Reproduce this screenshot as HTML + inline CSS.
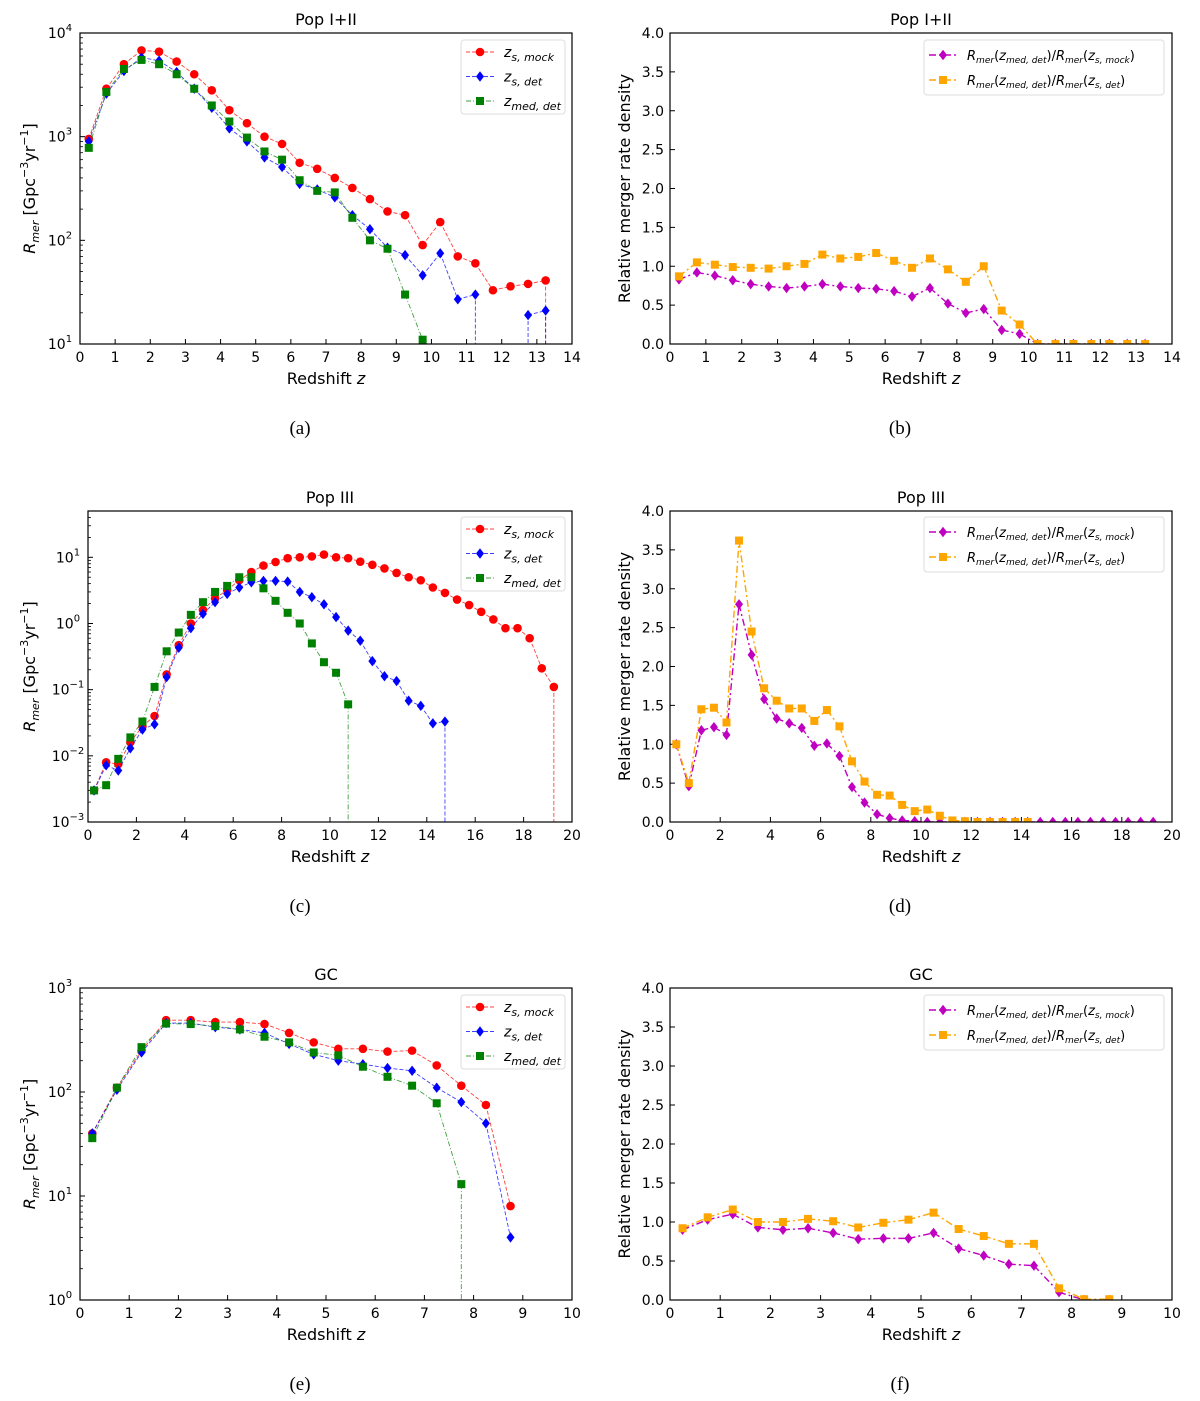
<!DOCTYPE html>
<html><head><meta charset="utf-8">
<style>
body{margin:0;background:#fff;}
svg{display:block;font-family:"DejaVu Sans","Liberation Sans",sans-serif;}
.cap{font-family:"Liberation Serif",serif;font-size:19px;}
</style></head>
<body>
<svg id="fig" width="1200" height="1401" viewBox="0 0 1200 1401" xmlns="http://www.w3.org/2000/svg"></svg>
<script>
// ---- data ----
const zA=[0.25,0.75,1.25,1.75,2.25,2.75,3.25,3.75,4.25,4.75,5.25,5.75,6.25,6.75,7.25,7.75,8.25,8.75,9.25,9.75,10.25,10.75,11.25,11.75,12.25,12.75,13.25,13.75];
const aMock=[950,2900,5000,6800,6600,5300,4000,2800,1800,1350,1000,850,560,490,400,320,250,190,175,90,150,70,60,33,36,38,41,0];
const aDet=[900,2600,4300,5800,5400,4200,2900,1900,1200,900,630,510,350,310,260,175,128,85,72,46,75,27,30,0,0,19,21,0];
const aMed=[780,2700,4500,5500,5000,4000,2900,2000,1400,980,720,600,380,300,290,165,100,83,30,11,0,null,null,null,null,null,null,null];
const bMock=[0.83,0.92,0.88,0.82,0.77,0.74,0.72,0.74,0.77,0.74,0.72,0.71,0.68,0.61,0.72,0.52,0.40,0.45,0.18,0.13,0,0,0,0,0,0,0];
const bDet=[0.87,1.05,1.02,0.99,0.98,0.97,1.00,1.03,1.15,1.10,1.12,1.17,1.07,0.98,1.10,0.96,0.80,1.00,0.43,0.25,0,0,0,0,0,0,0];
const zC=[0.25,0.75,1.25,1.75,2.25,2.75,3.25,3.75,4.25,4.75,5.25,5.75,6.25,6.75,7.25,7.75,8.25,8.75,9.25,9.75,10.25,10.75,11.25,11.75,12.25,12.75,13.25,13.75,14.25,14.75,15.25,15.75,16.25,16.75,17.25,17.75,18.25,18.75,19.25,19.75];
const cMock=[0.003,0.008,0.0075,0.016,0.028,0.04,0.17,0.47,1.0,1.6,2.4,3.2,4.5,6.0,7.5,8.5,9.7,10,10.3,11,10,9.7,8.6,7.7,6.8,5.8,5,4.5,3.5,2.9,2.3,1.9,1.5,1.15,0.85,0.85,0.6,0.21,0.11,0];
const cDet=[0.003,0.0072,0.006,0.013,0.025,0.03,0.155,0.43,0.85,1.4,2.1,2.8,3.5,4.2,4.4,4.4,4.3,3.0,2.5,1.95,1.25,0.78,0.55,0.27,0.16,0.135,0.068,0.057,0.031,0.033,0];
const cMed=[0.003,0.0036,0.009,0.019,0.033,0.11,0.38,0.73,1.35,2.1,3.0,3.7,5.0,5.0,3.4,2.2,1.45,1.0,0.5,0.26,0.18,0.06,0];
const dMock=[1.0,0.46,1.18,1.22,1.12,2.8,2.15,1.58,1.33,1.27,1.21,0.98,1.01,0.85,0.45,0.25,0.1,0.05,0.02,0.01,0,0,0,0,0,0,0,0,0,0,0,0,0,0,0,0,0,0,0];
const dDet=[1.0,0.5,1.45,1.47,1.28,3.62,2.45,1.72,1.56,1.46,1.46,1.3,1.44,1.23,0.78,0.52,0.35,0.34,0.22,0.14,0.16,0.08,0.02,0.01,0,0,0,0,0];
const zE=[0.25,0.75,1.25,1.75,2.25,2.75,3.25,3.75,4.25,4.75,5.25,5.75,6.25,6.75,7.25,7.75,8.25,8.75];
const eMock=[40,110,250,490,490,470,470,450,370,300,260,260,245,250,180,115,75,8];
const eDet=[40,105,240,460,460,420,400,370,290,230,200,185,170,160,110,80,50,4];
const eMed=[36,110,270,455,450,430,400,340,300,240,225,175,140,115,78,13,0];
const fMock=[0.9,1.03,1.1,0.93,0.9,0.92,0.86,0.78,0.79,0.79,0.86,0.66,0.57,0.46,0.44,0.1,0,0];
const fDet=[0.92,1.06,1.16,1.0,1.0,1.04,1.01,0.93,0.99,1.03,1.12,0.91,0.82,0.72,0.72,0.15,0.01,0.01];
const xTicksA=[0,1,2,3,4,5,6,7,8,9,10,11,12,13,14];
const xTicksC=[0,2,4,6,8,10,12,14,16,18,20];
const xTicksE=[0,1,2,3,4,5,6,7,8,9,10];
const linTicks=[0,0.5,1,1.5,2,2.5,3,3.5,4];

const NS="http://www.w3.org/2000/svg";
const svg=document.getElementById('fig');
function mk(tag,attrs,parent){const e=document.createElementNS(NS,tag);for(const k in attrs)e.setAttribute(k,attrs[k]);(parent||svg).appendChild(e);return e;}

function panel(o){
  const g=mk('g',{});
  
  
  const {x0,x1,y0,y1}=o;
  const X=v=>x0+(v-o.xmin)/(o.xmax-o.xmin)*(x1-x0);
  const Y=o.log?(v=>y1-(Math.log10(v)-o.lmin)/(o.lmax-o.lmin)*(y1-y0)):(v=>y1-(v-o.ymin)/(o.ymax-o.ymin)*(y1-y0));
  const t=mk('text',{x:(x0+x1)/2,y:y0-8,'text-anchor':'middle','font-size':16},g);t.textContent=o.title;
  
  o.xticks.forEach(v=>{
    const x=X(v);mk('line',{x1:x,x2:x,y1:y1,y2:y1-5,stroke:'#000','stroke-width':1},g);
    const tt=mk('text',{x:x,y:y1+18,'text-anchor':'middle','font-size':14},g);tt.textContent=v;
    
  });
  const xl=mk('text',{x:(x0+x1)/2,y:y1+40,'text-anchor':'middle','font-size':16},g);
  xl.innerHTML='Redshift <tspan font-style="italic">z</tspan>';
  
  if(o.log){
    for(let d=o.lmin;d<=Math.floor(o.lmax);d++){
      const y=Y(Math.pow(10,d));
      mk('line',{x1:x0,x2:x0+5,y1:y,y2:y,stroke:'#000'},g);
      const tt=mk('text',{x:x0-20,y:y+5,'text-anchor':'middle','font-size':14},g);
      tt.innerHTML='10<tspan dy="-7" font-size="10">'+(d<0?'\u2212'+(-d):d)+'</tspan>';
      
      for(let m=2;m<10;m++){const v=m*Math.pow(10,d);if(Math.log10(v)>o.lmax)break;const ym=Y(v);mk('line',{x1:x0,x2:x0+3,y1:ym,y2:ym,stroke:'#000','stroke-width':0.8},g);}
    }
    const yl=mk('text',{x:0,y:0,'text-anchor':'middle','font-size':16,transform:`translate(${o.ylx},${(y0+y1)/2}) rotate(-90)`},g);
    yl.innerHTML='<tspan font-style="italic">R</tspan><tspan font-style="italic" font-size="11" dy="4">mer</tspan><tspan dy="-4">  [Gpc</tspan><tspan font-size="11" dy="-7">\u22123</tspan><tspan dy="7">yr</tspan><tspan font-size="11" dy="-7">\u22121</tspan><tspan dy="7">]</tspan>';
    
  } else {
    linTicks.forEach(v=>{const y=Y(v);mk('line',{x1:x0,x2:x0+5,y1:y,y2:y,stroke:'#000'},g);
      const tt=mk('text',{x:x0-6,y:y+5,'text-anchor':'end','font-size':14},g);tt.textContent=v.toFixed(1);
      });
    const yl=mk('text',{x:0,y:0,'text-anchor':'middle','font-size':16,transform:`translate(${o.ylx},${(y0+y1)/2}) rotate(-90)`},g);
    yl.textContent='Relative merger rate density';
    
  }
  const clip='c'+o.name;
  const cp=mk('clipPath',{id:clip},g);mk('rect',{x:x0,y:y0,width:x1-x0,height:y1-y0},cp);
  const sg=mk('g',{'clip-path':`url(#${clip})`},g);
  o.series.forEach(s=>{
    const sgg=mk('g',{},sg);
    
    let d='';
    const ok=v=>v!==null&&v!==undefined&&(!o.log||v>0);
    for(let i=0;i<s.v.length-1;i++){
      const a=s.v[i],b=s.v[i+1];
      if(a===null||a===undefined||b===null||b===undefined)continue;
      if(ok(a)&&ok(b))d+=`M${X(o.x[i])},${Y(a)}L${X(o.x[i+1])},${Y(b)}`;
      else if(ok(a))d+=`M${X(o.x[i])},${Y(a)}L${X(o.x[i])},${y1+5}`;
      else if(ok(b))d+=`M${X(o.x[i+1])},${y1+5}L${X(o.x[i+1])},${Y(b)}`;
    }
    mk('path',{d:d,fill:'none',stroke:s.c,'stroke-width':o.log?0.9:1.4,'stroke-dasharray':s.dash,opacity:o.log?0.75:1},sgg);
    s.v.forEach((v,i)=>{if(!ok(v))return;const m=marker(s.m,X(o.x[i]),Y(v),s.c,sgg);
      });
  });
  mk('rect',{x:x0,y:y0,width:x1-x0,height:y1-y0,fill:'none',stroke:'#000','stroke-width':1.2},g);
  const L=o.leg;
  const lg=mk('g',{},g);
  mk('rect',{x:L.x,y:L.y,width:L.w,height:L.h,fill:'#fff',stroke:'#ddd',rx:3},lg);
  o.series.forEach((s,i)=>{
    const ly=L.y+L.dy0+i*L.dy;
    const eg=mk('g',{},lg);
    mk('line',{x1:L.x+5,x2:L.x+33,y1:ly,y2:ly,stroke:s.c,'stroke-width':o.log?0.9:1.4,'stroke-dasharray':s.dash,opacity:o.log?0.75:1},eg);
    marker(s.m,L.x+19,ly,s.c,eg);
    const tx=mk('text',{x:L.x+43,y:ly+5,'font-size':14},eg);tx.innerHTML=s.label;
  });
}
function marker(m,x,y,c,p){
  if(m==='o')return mk('circle',{cx:x,cy:y,r:4.3,fill:c},p);
  if(m==='s')return mk('rect',{x:x-4,y:y-4,width:8,height:8,fill:c},p);
  return mk('path',{d:`M${x},${y-5.2}L${x+4},${y}L${x},${y+5.2}L${x-4},${y}Z`,fill:c},p);
}
const zlab=(sub)=>'<tspan font-style="italic">z</tspan><tspan font-style="italic" font-size="11" dy="4">'+sub+'</tspan>';
const rlab=(sub)=>'<tspan font-style="italic" font-size="13">R</tspan><tspan font-style="italic" font-size="9" dy="3">mer</tspan><tspan font-size="13" dy="-3">(</tspan><tspan font-style="italic" font-size="13">z</tspan><tspan font-style="italic" font-size="9" dy="3">med, det</tspan><tspan font-size="13" dy="-3">)/</tspan><tspan font-style="italic" font-size="13">R</tspan><tspan font-style="italic" font-size="9" dy="3">mer</tspan><tspan font-size="13" dy="-3">(</tspan><tspan font-style="italic" font-size="13">z</tspan><tspan font-style="italic" font-size="9" dy="3">'+sub+'</tspan><tspan font-size="13" dy="-3">)</tspan>';
const R='#ff0000',B='#0000ff',G='#008000',M='#c000c0',O='#ffa500';
const legL=(x,y)=>({x:x,y:y,w:104,h:74,dy0:12,dy:24.5});
const legR=(x,y)=>({x:x,y:y,w:240,h:55,dy0:15,dy:25});
function logSeries(m,dt,md){return [{name:'z-s-mock',v:m,c:R,m:'o',dash:'4,2',label:zlab('s, mock')},{name:'z-s-det',v:dt,c:B,m:'d',dash:'4,2',label:zlab('s, det')},{name:'z-med-det',v:md,c:G,m:'s',dash:'5,2,1,2',label:zlab('med, det')}];}
function linSeries(a,b){return [{name:'ratio-mock',v:a,c:M,m:'d',dash:'7,3,2,3',label:rlab('s, mock')},{name:'ratio-det',v:b,c:O,m:'s',dash:'7,3,2,3',label:rlab('s, det')}];}

panel({name:'panel-a',title:'Pop I+II',x0:80,x1:572,y0:33,y1:344,xmin:0,xmax:14,log:true,lmin:1,lmax:4,ylx:35,xticks:xTicksA,x:zA,series:logSeries(aMock,aDet,aMed),leg:legL(461,40)});
panel({name:'panel-b',title:'Pop I+II',x0:670,x1:1172,y0:33,y1:344,xmin:0,xmax:14,log:false,ymin:0,ymax:4,ylx:630,xticks:xTicksA,x:zA,series:linSeries(bMock,bDet),leg:legR(924,40)});
panel({name:'panel-c',title:'Pop III',x0:88,x1:572,y0:511,y1:822,xmin:0,xmax:20,log:true,lmin:-3,lmax:1.7,ylx:35,xticks:xTicksC,x:zC,series:logSeries(cMock,cDet,cMed),leg:legL(461,517)});
panel({name:'panel-d',title:'Pop III',x0:670,x1:1172,y0:511,y1:822,xmin:0,xmax:20,log:false,ymin:0,ymax:4,ylx:630,xticks:xTicksC,x:zC,series:linSeries(dMock,dDet),leg:legR(924,517)});
panel({name:'panel-e',title:'GC',x0:80,x1:572,y0:988,y1:1300,xmin:0,xmax:10,log:true,lmin:0,lmax:3,ylx:35,xticks:xTicksE,x:zE,series:logSeries(eMock,eDet,eMed),leg:legL(461,995)});
panel({name:'panel-f',title:'GC',x0:670,x1:1172,y0:988,y1:1300,xmin:0,xmax:10,log:false,ymin:0,ymax:4,ylx:630,xticks:xTicksE,x:zE,series:linSeries(fMock,fDet),leg:legR(924,995)});
[['(a)',300,434],['(b)',900,434],['(c)',300,912],['(d)',900,912],['(e)',300,1390],['(f)',900,1390]].forEach(c=>{
  const t=mk('text',{x:c[1],y:c[2],'text-anchor':'middle',class:'cap'});t.textContent=c[0];
  
});
</script>
</body></html>
